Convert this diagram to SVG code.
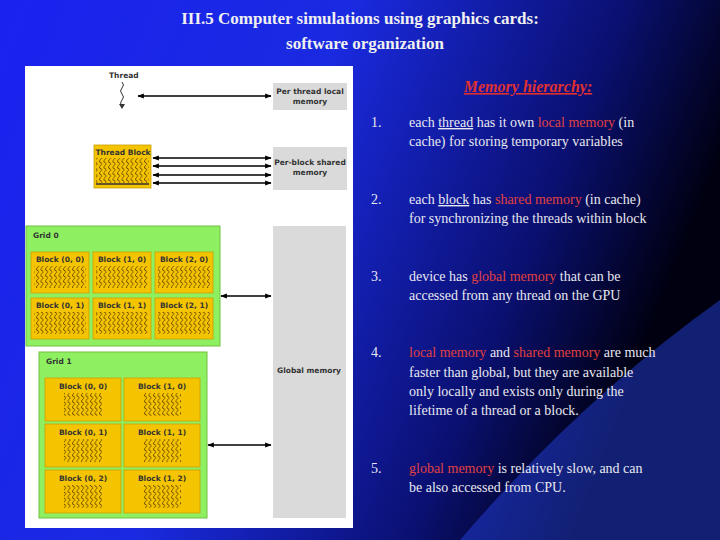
<svg xmlns="http://www.w3.org/2000/svg" width="720" height="540" viewBox="0 0 720 540">
<defs>
<linearGradient id="bg" x1="0" y1="0" x2="1" y2="0.3">
<stop offset="0" stop-color="#1a22f0"/><stop offset="0.45" stop-color="#1a2ae0"/><stop offset="0.8" stop-color="#0a1070"/><stop offset="1" stop-color="#000010"/>
</linearGradient>
<pattern id="sq" width="4.5" height="6" patternUnits="userSpaceOnUse">
<path d="M0.5,0 Q4,1.5 2,3 Q0,4.5 0.5,6" fill="none" stroke="#5a3a00" stroke-width="0.9"/>
</pattern>
<marker id="ah" viewBox="0 0 10 10" refX="9" refY="5" markerWidth="5" markerHeight="5" orient="auto-start-reverse"><path d="M0,1 L10,5 L0,9 z" fill="#000"/></marker>
<style>
.t{font-family:"Liberation Serif",serif;font-size:14px;fill:#e8e8f0}
.r{fill:#e04040}
.s{font-family:"DejaVu Sans",sans-serif;font-size:7.5px;font-weight:bold;fill:#333}
.mem{fill:#dadada}
.blk{fill:#f5c400;stroke:#c8a000;stroke-width:0.8}
.g{fill:#8ef060;stroke:#70c040}
.c{stroke:#000;stroke-width:1.3;marker-start:url(#ah);marker-end:url(#ah)}
</style>
</defs>
<rect width="720" height="540" fill="url(#bg)"/>
<path d="M460,540 Q580,400 720,300 L720,540 z" fill="#2848f0" opacity="0.45"/>
<g id="title" font-family="Liberation Serif,serif" font-size="17" font-weight="bold" fill="#f0f0f0" text-anchor="middle">
<text x="360" y="24">III.5 Computer simulations using graphics cards:</text>
<text x="365" y="49">software organization</text>
</g>
<rect x="25" y="66" width="328" height="462" fill="#fff"/>
<g id="thread"><text class="s" x="109" y="78">Thread</text><path d="M122,82 q3,3 0,6 q-3,3 0,6 q3,3 0,6 q-3,3 0,6" fill="none" stroke="#333"/><path d="M119,104 l3,5 l3,-5z" fill="#333"/></g>
<g id="perthread"><rect class="mem" x="273" y="83" width="74" height="27"/><text class="s" x="310" y="94" text-anchor="middle">Per thread local</text><text class="s" x="310" y="104" text-anchor="middle">memory</text></g>
<g id="threadblock"><rect class="blk" x="94" y="145" width="57" height="43"/><text class="s" x="123" y="155" text-anchor="middle">Thread Block</text><rect x="96" y="158" width="53" height="25" fill="url(#sq)"/><line x1="96" y1="184" x2="149" y2="184" stroke="#333" stroke-width="1.5"/></g>
<g id="perblock"><rect class="mem" x="273" y="147" width="74" height="43"/><text class="s" x="310" y="165" text-anchor="middle">Per-block shared</text><text class="s" x="310" y="175" text-anchor="middle">memory</text></g>
<g id="global"><rect class="mem" x="273" y="226" width="73" height="292"/><text class="s" x="309" y="373" text-anchor="middle">Global memory</text></g>
<g id="grid0"><rect class="g" x="26" y="226" width="194" height="120"/><text class="s" x="33" y="238" fill="#063">Grid 0</text>
<g id="g0b"><rect class="blk" x="31" y="252" width="58" height="41"/><rect class="blk" x="93" y="252" width="58" height="41"/><rect class="blk" x="155" y="252" width="58" height="41"/><rect class="blk" x="31" y="298" width="58" height="41"/><rect class="blk" x="93" y="298" width="58" height="41"/><rect class="blk" x="155" y="298" width="58" height="41"/>
<text class="s" x="60" y="262" text-anchor="middle">Block (0, 0)</text><text class="s" x="122" y="262" text-anchor="middle">Block (1, 0)</text><text class="s" x="184" y="262" text-anchor="middle">Block (2, 0)</text>
<text class="s" x="60" y="308" text-anchor="middle">Block (0, 1)</text><text class="s" x="122" y="308" text-anchor="middle">Block (1, 1)</text><text class="s" x="184" y="308" text-anchor="middle">Block (2, 1)</text>
<rect x="34" y="266" width="52" height="22" fill="url(#sq)"/><rect x="96" y="266" width="52" height="22" fill="url(#sq)"/><rect x="158" y="266" width="52" height="22" fill="url(#sq)"/>
<rect x="34" y="312" width="52" height="22" fill="url(#sq)"/><rect x="96" y="312" width="52" height="22" fill="url(#sq)"/><rect x="158" y="312" width="52" height="22" fill="url(#sq)"/></g></g>
<g id="grid1"><rect class="g" x="39" y="352" width="168" height="166"/><text class="s" x="46" y="364" fill="#063">Grid 1</text>
<rect class="blk" x="45" y="378" width="76" height="43"/><rect class="blk" x="124" y="378" width="76" height="43"/><rect class="blk" x="45" y="424" width="76" height="43"/><rect class="blk" x="124" y="424" width="76" height="43"/><rect class="blk" x="45" y="470" width="76" height="43"/><rect class="blk" x="124" y="470" width="76" height="43"/>
<text class="s" x="83" y="389" text-anchor="middle">Block (0, 0)</text><text class="s" x="162" y="389" text-anchor="middle">Block (1, 0)</text>
<text class="s" x="83" y="435" text-anchor="middle">Block (0, 1)</text><text class="s" x="162" y="435" text-anchor="middle">Block (1, 1)</text>
<text class="s" x="83" y="481" text-anchor="middle">Block (0, 2)</text><text class="s" x="162" y="481" text-anchor="middle">Block (1, 2)</text>
<rect x="64" y="393" width="38" height="23" fill="url(#sq)"/><rect x="143" y="393" width="38" height="23" fill="url(#sq)"/>
<rect x="64" y="439" width="38" height="23" fill="url(#sq)"/><rect x="143" y="439" width="38" height="23" fill="url(#sq)"/>
<rect x="64" y="485" width="38" height="23" fill="url(#sq)"/><rect x="143" y="485" width="38" height="23" fill="url(#sq)"/></g>
<g id="connectors">
<line class="c" x1="138" y1="96" x2="271" y2="96"/>
<line class="c" x1="153" y1="158" x2="271" y2="158"/><line class="c" x1="153" y1="166" x2="271" y2="166"/><line class="c" x1="153" y1="175" x2="271" y2="175"/><line class="c" x1="153" y1="183" x2="271" y2="183"/>
<line class="c" x1="221" y1="296" x2="271" y2="296"/><line class="c" x1="208" y1="445" x2="271" y2="445"/>
</g>
<g id="list" class="t">
<text x="528" y="92" text-anchor="middle" font-size="16" font-weight="bold" font-style="italic" fill="#e03030" text-decoration="underline">Memory hierarchy:</text>
<text x="371" y="127">1.</text><text x="409" y="127">each <tspan text-decoration="underline">thread</tspan> has it own <tspan class="r">local memory</tspan> (in</text><text x="409" y="146">cache) for storing temporary variables</text>
<text x="371" y="204">2.</text><text x="409" y="204">each <tspan text-decoration="underline">block</tspan> has <tspan class="r">shared memory</tspan> (in cache)</text><text x="409" y="223">for synchronizing the threads within block</text>
<text x="371" y="281">3.</text><text x="409" y="281">device has <tspan class="r">global memory</tspan> that can be</text><text x="409" y="300">accessed from any thread on the GPU</text>
<text x="371" y="357">4.</text><text x="409" y="357"><tspan class="r">local memory</tspan> and <tspan class="r">shared memory</tspan> are much</text><text x="409" y="377">faster than global, but they are available</text><text x="409" y="396">only locally and exists only during the</text><text x="409" y="415">lifetime of a thread or a block.</text>
<text x="371" y="473">5.</text><text x="409" y="473"><tspan class="r">global memory</tspan> is relatively slow, and can</text><text x="409" y="492">be also accessed from CPU.</text>
</g>
</svg>
